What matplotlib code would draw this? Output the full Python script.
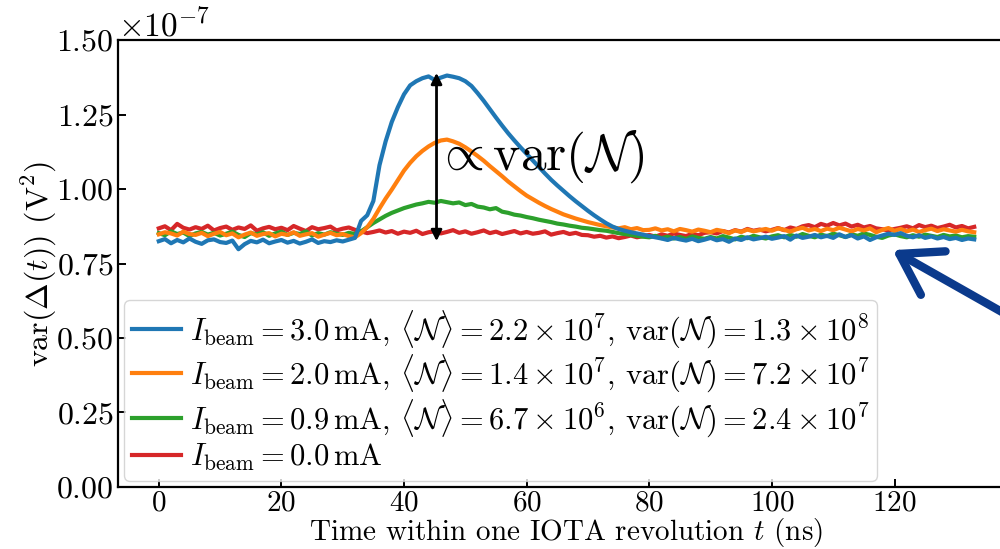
import matplotlib
matplotlib.use('Agg')
import matplotlib.pyplot as plt
import numpy as np

plt.rcParams['font.family'] = 'serif'
plt.rcParams['font.serif'] = ['cmr10']
plt.rcParams['mathtext.fontset'] = 'cm'
plt.rcParams['axes.formatter.use_mathtext'] = True
plt.rcParams['axes.unicode_minus'] = True

#time axis in ns, one sample per ns
t = np.arange(134)

#variance traces, in units of 1e-7 V^2
var_3mA = [
	0.825, 0.832, 0.818, 0.829, 0.821, 0.834, 0.823, 0.816, 0.828, 0.831,
	0.822, 0.819, 0.827, 0.798, 0.815, 0.826, 0.821, 0.830, 0.818, 0.824,
	0.829, 0.820, 0.826, 0.817, 0.823, 0.831, 0.819, 0.825, 0.822, 0.828,
	0.824, 0.830, 0.836, 0.893, 0.912, 0.960, 1.080, 1.160, 1.225, 1.275,
	1.318, 1.348, 1.362, 1.372, 1.378, 1.366, 1.374, 1.381, 1.377, 1.372,
	1.362, 1.346, 1.322, 1.296, 1.268, 1.240, 1.213, 1.187, 1.163, 1.140,
	1.118, 1.096, 1.074, 1.052, 1.031, 1.012, 0.994, 0.976, 0.959, 0.943,
	0.927, 0.912, 0.898, 0.885, 0.874, 0.866, 0.860, 0.855, 0.851, 0.847,
	0.842, 0.838, 0.834, 0.829, 0.836, 0.831, 0.827, 0.833, 0.825, 0.830,
	0.836, 0.828, 0.832, 0.823, 0.834, 0.829, 0.838, 0.831, 0.835, 0.840,
	0.833, 0.837, 0.842, 0.830, 0.844, 0.836, 0.840, 0.846, 0.838, 0.843,
	0.836, 0.848, 0.839, 0.845, 0.834, 0.841, 0.829, 0.838, 0.844, 0.850,
	0.846, 0.852, 0.843, 0.838, 0.845, 0.836, 0.841, 0.834, 0.839, 0.832,
	0.836, 0.829, 0.834, 0.831]

var_2mA = [
	0.848, 0.855, 0.851, 0.844, 0.857, 0.849, 0.846, 0.853, 0.842, 0.850,
	0.856, 0.845, 0.851, 0.838, 0.847, 0.854, 0.843, 0.849, 0.852, 0.841,
	0.850, 0.846, 0.855, 0.843, 0.848, 0.852, 0.840, 0.847, 0.853, 0.845,
	0.849, 0.842, 0.838, 0.852, 0.872, 0.900, 0.935, 0.968, 0.998, 1.030,
	1.062, 1.088, 1.110, 1.128, 1.143, 1.155, 1.163, 1.166, 1.160, 1.152,
	1.140, 1.126, 1.111, 1.095, 1.077, 1.060, 1.043, 1.025, 1.009, 0.993,
	0.978, 0.966, 0.954, 0.943, 0.933, 0.924, 0.915, 0.908, 0.901, 0.895,
	0.889, 0.884, 0.879, 0.875, 0.871, 0.868, 0.872, 0.865, 0.869, 0.862,
	0.863, 0.868, 0.861, 0.865, 0.858, 0.866, 0.862, 0.857, 0.864, 0.860,
	0.855, 0.863, 0.859, 0.852, 0.861, 0.856, 0.864, 0.858, 0.862, 0.866,
	0.860, 0.868, 0.863, 0.857, 0.865, 0.870, 0.861, 0.866, 0.859, 0.867,
	0.862, 0.870, 0.864, 0.858, 0.866, 0.861, 0.868, 0.855, 0.863, 0.869,
	0.860, 0.866, 0.858, 0.864, 0.856, 0.862, 0.867, 0.859, 0.865, 0.861,
	0.857, 0.863, 0.858, 0.855]

var_09mA = [
	0.852, 0.845, 0.858, 0.849, 0.854, 0.842, 0.851, 0.856, 0.847, 0.853,
	0.844, 0.850, 0.857, 0.846, 0.839, 0.852, 0.848, 0.855, 0.843, 0.851,
	0.857, 0.846, 0.853, 0.849, 0.858, 0.844, 0.852, 0.847, 0.855, 0.850,
	0.846, 0.853, 0.849, 0.858, 0.872, 0.886, 0.898, 0.910, 0.920, 0.928,
	0.936, 0.942, 0.948, 0.952, 0.957, 0.954, 0.960, 0.956, 0.952, 0.955,
	0.946, 0.950, 0.941, 0.938, 0.932, 0.936, 0.924, 0.920, 0.914, 0.911,
	0.906, 0.902, 0.897, 0.893, 0.889, 0.884, 0.881, 0.877, 0.874, 0.870,
	0.868, 0.865, 0.862, 0.860, 0.856, 0.852, 0.849, 0.846, 0.843, 0.840,
	0.838, 0.843, 0.835, 0.840, 0.834, 0.839, 0.832, 0.841, 0.836, 0.833,
	0.839, 0.834, 0.842, 0.837, 0.831, 0.840, 0.835, 0.843, 0.838, 0.834,
	0.841, 0.845, 0.838, 0.846, 0.840, 0.849, 0.843, 0.838, 0.847, 0.842,
	0.850, 0.845, 0.839, 0.848, 0.843, 0.851, 0.846, 0.840, 0.836, 0.844,
	0.848, 0.842, 0.838, 0.845, 0.840, 0.847, 0.843, 0.839, 0.846, 0.841,
	0.844, 0.838, 0.842, 0.840]

var_0mA = [
	0.868, 0.875, 0.862, 0.883, 0.870, 0.864, 0.872, 0.866, 0.877, 0.861,
	0.869, 0.874, 0.863, 0.871, 0.866, 0.878, 0.860, 0.868, 0.873, 0.865,
	0.870, 0.862, 0.876, 0.867, 0.859, 0.872, 0.865, 0.869, 0.874, 0.861,
	0.867, 0.871, 0.863, 0.858, 0.852, 0.856, 0.861, 0.854, 0.859, 0.850,
	0.857, 0.853, 0.860, 0.849, 0.855, 0.858, 0.851, 0.856, 0.862, 0.853,
	0.858, 0.850, 0.855, 0.861, 0.852, 0.857, 0.849, 0.854, 0.859, 0.851,
	0.856, 0.850, 0.853, 0.858, 0.847, 0.852, 0.856, 0.849, 0.853, 0.846,
	0.845, 0.840, 0.843, 0.837, 0.841, 0.835, 0.839, 0.844, 0.838, 0.842,
	0.846, 0.840, 0.848, 0.843, 0.851, 0.846, 0.842, 0.850, 0.845, 0.853,
	0.855, 0.851, 0.859, 0.854, 0.862, 0.857, 0.866, 0.860, 0.864, 0.858,
	0.863, 0.869, 0.862, 0.871, 0.866, 0.875, 0.879, 0.872, 0.883, 0.877,
	0.886, 0.878, 0.884, 0.874, 0.880, 0.871, 0.876, 0.868, 0.865, 0.861,
	0.866, 0.870, 0.875, 0.868, 0.879, 0.872, 0.877, 0.869, 0.874, 0.880,
	0.871, 0.876, 0.868, 0.873]

labels = [
	r'$I_{\rm beam} = 3.0\,{\rm mA}$, $\langle\mathcal{N}\rangle = 2.2\times10^{7}$, ${\rm var}(\mathcal{N}) = 1.3\times10^{8}$',
	r'$I_{\rm beam} = 2.0\,{\rm mA}$, $\langle\mathcal{N}\rangle = 1.4\times10^{7}$, ${\rm var}(\mathcal{N}) = 7.2\times10^{7}$',
	r'$I_{\rm beam} = 0.9\,{\rm mA}$, $\langle\mathcal{N}\rangle = 6.7\times10^{6}$, ${\rm var}(\mathcal{N}) = 2.4\times10^{7}$',
	r'$I_{\rm beam} = 0.0\,{\rm mA}$',
]
colors = ['#1f77b4', '#ff7f0e', '#2ca02c', '#d62728']
series = [var_3mA, var_2mA, var_09mA, var_0mA]

fig = plt.figure(figsize=(10, 5.49), dpi=100)
#the right edge of the axes runs past the figure, as in the cropped original
ax = fig.add_axes([0.118, 0.113, 0.897, 0.814])

#draw the zero-current trace first so the beam traces sit on top
handles = [None] * 4
for i in [3, 2, 1, 0]:
	line, = ax.plot(t, np.array(series[i]) * 1e-7, color=colors[i], lw=3, label=labels[i])
	handles[i] = line

ax.set_ylim(0, 1.5e-7)
ax.set_yticks(np.arange(0, 1.51, 0.25) * 1e-7)
ax.set_xticks([0, 20, 40, 60, 80, 100, 120])
ax.tick_params(direction='in', length=6, width=1.4, labelsize=23, pad=3)
ax.tick_params(axis='x', labelsize=21, pad=2)
for s in ax.spines.values():
	s.set_linewidth(1.6)
ax.yaxis.get_offset_text().set_fontsize(24)

ax.set_xlabel(r'Time within one IOTA revolution $t$ (ns)', fontsize=21)
ax.xaxis.set_label_coords(0.5, -0.066)
ax.set_ylabel(r'${\rm var}(\Delta(t))$ (V$^2$)', fontsize=23, labelpad=-2)

#peak height marker
ax.annotate('', xy=(45.3, 1.39e-7), xytext=(45.3, 0.825e-7),
	arrowprops=dict(arrowstyle='<|-|>', color='black', lw=2, mutation_scale=16, shrinkA=0, shrinkB=0))
ax.text(45.0, 1.11e-7, r'$\propto {\rm var}(\mathcal{N})$', fontsize=37, va='center', ha='left')

#navy pointer coming in from outside the frame
ax.annotate('', xy=(119.7, 0.795e-7), xytext=(145, 0.50e-7),
	arrowprops=dict(arrowstyle='->,head_length=0.7,head_width=0.45', color='#0b3a8c', lw=6,
		mutation_scale=40, shrinkA=0, shrinkB=0),
	annotation_clip=False)

ax.legend(handles=handles, loc='lower left', fontsize=22, borderaxespad=0.2,
	handlelength=1.6, handletextpad=0.3, labelspacing=0.1, borderpad=0.25)

plt.savefig('out.png', dpi=100)
